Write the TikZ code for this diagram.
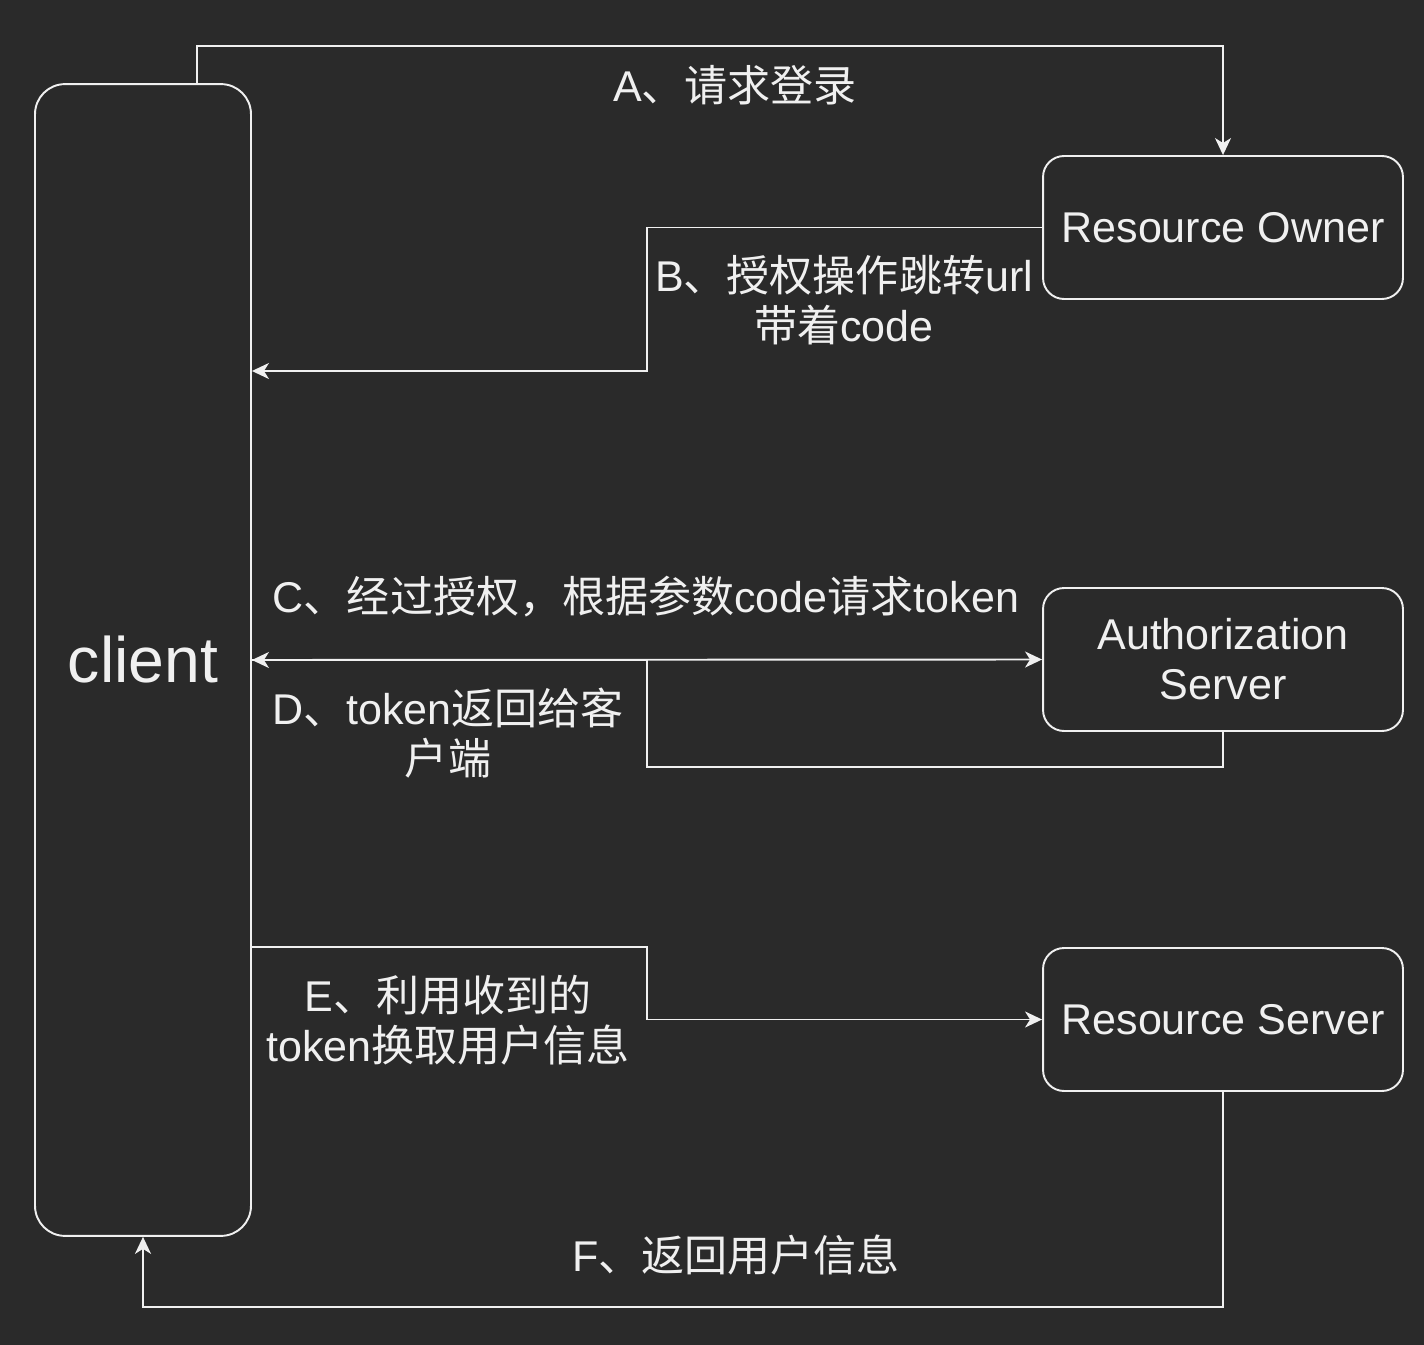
\documentclass[tikz,border=0pt]{standalone}
\usepackage{fontspec}
\setmainfont{Liberation Sans}
\newfontfamily\cjk{Noto Sans CJK SC}
\usepackage{tikz}
\usetikzlibrary{arrows.meta, positioning, calc}
\usepackage{xcolor}
\definecolor{fond}{HTML}{2A2A2A}
\definecolor{trait}{HTML}{F0F0F0}
\tikzset{
    boite/.style={draw=trait, line width=1.1pt, rounded corners=0.42cm, text=trait, align=center,
        minimum width=7.2cm, minimum height=2.86cm, font=\fontsize{24.5}{28.4}\selectfont},
    fleche/.style={-{Stealth[length=3.4mm, width=3.2mm, inset=1mm]}, line width=1.1pt, draw=trait},
    texte/.style={text=trait, align=center, inner sep=0pt, font=\fontsize{24.5}{28.4}\selectfont},
}
\begin{document}
\begin{tikzpicture}[x=0.02cm, y=-0.02cm]
\fill[fond] (0,0) rectangle (1424,1345);
\useasboundingbox (0,0) rectangle (1424,1345);
% Acteurs
\node[boite, rounded corners=0.6cm, minimum width=4.32cm, minimum height=23.04cm,
    font=\fontsize{36.6}{40}\selectfont] (client) at (143,660) {client};
\node[boite] (owner) at (1223,227.5) {Resource Owner};
\node[boite] (auth) at (1223,659.5) {Authorization\\Server};
\node[boite] (server) at (1223,1019.5) {Resource Server};
% Points de passage
\coordinate (bturn) at (647,371);
\coordinate (dturn) at (647,767);
\coordinate (eturn) at (647,947);
\coordinate (fturn) at (143,1307);
% A : demande de connexion
\draw[fleche] ($(client.north)+(54,0)$) |- ($(owner.north)+(0,-109)$) -- (owner.north);
\node[texte] (ta) at (735,85) {A{\cjk 、请求登录}};
% B : retour avec code
\draw[fleche] (owner.west) -| (bturn) -- (bturn -| client.east);
\node[texte] (tb) at (844,300) {B{\cjk 、授权操作跳转}url\\{\cjk 带着}code};
% C et D : echange du code
\draw[fleche] (client.east) -- (auth.west);
\draw[fleche] (auth.south) |- (dturn) |- (client.east);
\node[texte] (tc) at (646,597) {C{\cjk 、经过授权，根据参数}code{\cjk 请求}token};
\node[texte] (td) at (448,733) {D{\cjk 、}token{\cjk 返回给客}\\{\cjk 户端}};
% E et F : informations utilisateur
\draw[fleche] (eturn -| client.east) -- (eturn) |- (server.west);
\node[texte] (te) at (448,1020) {E{\cjk 、利用收到的}\\token{\cjk 换取用户信息}};
\draw[fleche] (server.south) |- (fturn) -- (client.south);
\node[texte] (tf) at (736,1255) {F{\cjk 、返回用户信息}};
\end{tikzpicture}
\end{document}
